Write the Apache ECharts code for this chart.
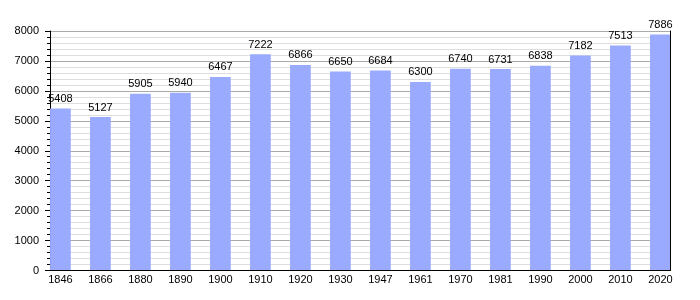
<!DOCTYPE html>
<html>
<head>
<meta charset="utf-8">
<script src="https://cdn.jsdelivr.net/npm/echarts@6/dist/echarts.min.js"></script>
<style>html,body{margin:0;padding:0;background:#fff}#c{width:700px;height:300px}</style>
</head>
<body>
<div id="c"></div>
<script>
const years = ['1846','1866','1880','1890','1900','1910','1920','1930','1947','1961','1970','1981','1990','2000','2010','2020'];
const population = [5408,5127,5905,5940,6467,7222,6866,6650,6684,6300,6740,6731,6838,7182,7513,7886];
const yMin = 0, yMax = 8000, yStep = 1000;

const chart = echarts.init(document.getElementById('c'), null, {renderer:'canvas'});
const font = 'Liberation Sans, Arial, sans-serif';
chart.setOption({
  animation: false,
  grid: [
    {left: 50, width: 620, top: 31, height: 239.5},
    {left: 40.4, width: 640, top: 31, height: 239.5}
  ],
  xAxis: [
    {type: 'value', gridIndex: 0, min: 0, max: 1, z: 10,
     axisLine: {show: true, onZero: false, lineStyle: {color: '#000', width: 1}},
     axisTick: {show: false}, axisLabel: {show: false}, splitLine: {show: false}},
    {type: 'category', gridIndex: 1, data: years, boundaryGap: true,
     axisLine: {show: false}, axisTick: {show: false},
     axisLabel: {show: true, color: '#000', fontFamily: font, fontSize: 11, margin: 4}}
  ],
  yAxis: [
    {type: 'value', gridIndex: 0, min: yMin, max: yMax, interval: yStep,
     axisLine: {show: true, lineStyle: {color: '#000'}},
     axisTick: {show: true, length: 5, lineStyle: {color: '#000'}},
     minorTick: {show: true, splitNumber: 5, length: 3, lineStyle: {color: '#000'}},
     axisLabel: {color: '#000', fontFamily: font, fontSize: 11, margin: 11,
                 formatter: v => String(v)},
     splitLine: {show: true, lineStyle: {color: '#aaaaaa', width: 1}},
     minorSplitLine: {show: true, lineStyle: {color: '#dddddd', width: 1}}},
    {type: 'value', gridIndex: 1, min: yMin, max: yMax, show: false},
    {type: 'value', gridIndex: 0, min: yMin, max: yMax, z: 10,
     axisLine: {show: true, lineStyle: {color: '#000'}},
     axisTick: {show: false}, axisLabel: {show: false}, splitLine: {show: false}}
  ],
  series: [{
    type: 'bar', xAxisIndex: 1, yAxisIndex: 1, data: population,
    barWidth: 20.7,
    itemStyle: {color: '#99aaff'},
    label: {show: true, position: 'top', distance: 4, color: '#000', fontFamily: font, fontSize: 11}
  }]
});
</script>
</body>
</html>
